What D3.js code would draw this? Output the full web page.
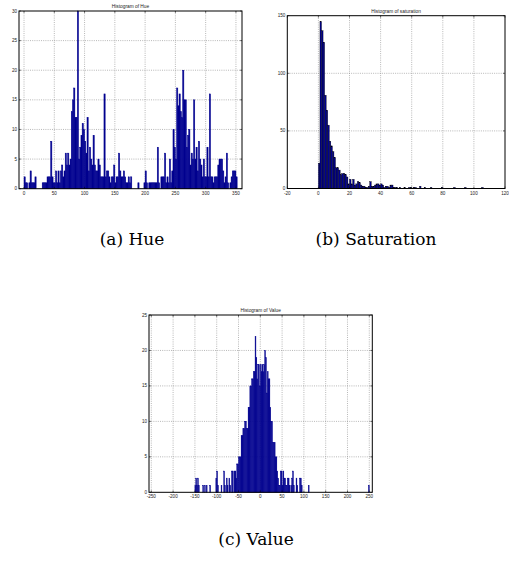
<!DOCTYPE html>
<html>
<head>
<meta charset="utf-8">
<title>HSV histograms</title>
<style>
  body { margin: 0; background: #fff; }
  .grid line { stroke: #888; stroke-width: 0.6; stroke-dasharray: 1,1.2; }
  .tick-label { font-family: "Liberation Sans", Arial, sans-serif; font-size: 4.6px; fill: #222; }
  .title { font-family: "Liberation Sans", Arial, sans-serif; font-size: 4.8px; fill: #222; }
  .caption { font-family: "DejaVu Serif", serif; font-size: 17px; fill: #000; }
</style>
</head>
<body>
<div id="chart"></div>
<script src="https://d3js.org/d3.v7.min.js"></script>
<script>
// Hue: bins of width 2 starting at 0
const hueStart = 0, hueWidth = 2;
const hueCounts = [
  2,1,1,0,1,  3,1,1,1,2,  0,0,0,0,0,  1,1,1,1,2,
  2,2,8,2,1,  1,3,1,3,1,  3,4,2,3,6,  4,6,4,5,13,
  15,17,12,12,30,  5,7,9,11,10,  8,6,12,3,7,  5,4,9,4,3,
  3,5,4,2,2,  2,16,2,3,3,  2,1,2,2,4,  1,2,2,6,3,
  2,2,3,2,1,  1,2,1,2,0,  0,0,0,0,1,  0,0,0,0,1,
  3,1,0,1,1,  1,1,1,1,1,  7,1,0,2,2,  2,6,1,2,1,
  5,1,3,10,7,  5,17,14,16,13,  12,20,15,15,7,  9,10,4,6,5,
  15,5,7,3,8,  5,4,2,5,2,  2,7,2,16,2,  2,1,2,2,2,
  4,5,5,5,3,  1,2,6,1,0,  1,2,3,3,3,  2,0
];
const hueXTicks = [0, 50, 100, 150, 200, 250, 300, 350];
const hueYTicks = [0, 5, 10, 15, 20, 25, 30];

// Saturation: bins of width 1 starting at 0
const satStart = 0, satWidth = 1;
const satCounts = [
  22,145,137,127,81,68,55,41,37,32,
  27,18,18,16,12,13,13,12,10,4,
  8,4,8,3,4,6,5,3,2,2,
  1,1,2,6,2,2,3,4,4,3,
  4,3,1,2,2,1,3,3,1,1,
  1,0,1,0,0,1,0,0,1,1,
  0,1,1,0,0,2,0,0,1,0,
  0,0,1,0,0,0,0,0,0,1,
  0,0,0,0,0,0,0,1,0,0,
  0,0,0,0,1,0,0,0,0,0,
  0,0,0,0,0,1
];
const satXTicks = [-20, 0, 20, 40, 60, 80, 100, 120];
const satYTicks = [0, 50, 100, 150];

// Value: bins of width 2 starting at -150
const valStart = -150, valWidth = 2;
const valCounts = [
  1,2,1,2,1,  0,0,0,0,1,  0,1,0,1,0,  0,0,1,0,0,
  0,0,0,0,2,  3,1,0,0,0,  1,0,0,3,1,  0,2,1,0,2,
  1,0,3,3,0,  3,3,2,4,4,  5,5,5,8,8,  9,9,10,10,9,
  9,12,12,15,15,  16,16,17,17,22,  19,16,18,18,15,  18,17,18,17,18,
  20,19,14,17,16,  16,12,10,10,7,  7,7,5,5,3,  2,1,1,3,3,
  1,3,2,2,1,  1,2,2,1,0,  1,2,3,1,0,  0,2,1,0,0,
  2,2,1,0,0,  0,0,0,0,0,  1,0,0,0,0,  0,0,0,0,0,
  0,0,0,0,0,  0,0,0,0,0,  0,0,0,0,0,  0,0,0,0,0,
  0,0,0,0,0,  0,0,0,0,0,  0,0,0,0,0,  0,0,0,0,0,
  0,0,0,0,0,  0,0,0,0,0,  0,0,0,0,0,  0,0,0,0,1
];
const valXTicks = [-250, -200, -150, -100, -50, 0, 50, 100, 150, 200, 250];
const valYTicks = [0, 5, 10, 15, 20, 25];

const W = 509, H = 561;
const svg = d3.select("#chart").append("svg")
  .attr("width", W).attr("height", H);

function drawHist(o) {
  const x = d3.scaleLinear().domain(o.xDomain).range([o.left, o.right]);
  const y = d3.scaleLinear().domain(o.yDomain).range([o.bottom, o.top]);
  const g = svg.append("g");

  // dotted grid
  const grid = g.append("g").attr("class", "grid");
  grid.selectAll(".gx").data(o.xTicks.filter(t => x(t) > o.left + 0.5 && x(t) < o.right - 0.5))
    .enter().append("line")
    .attr("x1", d => x(d)).attr("x2", d => x(d))
    .attr("y1", o.top).attr("y2", o.bottom);
  grid.selectAll(".gy").data(o.yTicks.filter(t => y(t) > o.top + 0.5 && y(t) < o.bottom - 0.5))
    .enter().append("line")
    .attr("y1", d => y(d)).attr("y2", d => y(d))
    .attr("x1", o.left).attr("x2", o.right);

  // bars
  const bins = o.counts.map((c, i) => ({ x0: o.start + i * o.width, x1: o.start + (i + 1) * o.width, n: c }));
  g.append("g").selectAll("rect").data(bins).enter().append("rect")
    .attr("x", d => x(d.x0))
    .attr("width", d => Math.max(0.1, x(d.x1) - x(d.x0)))
    .attr("y", d => y(d.n))
    .attr("height", d => y(0) - y(d.n))
    .attr("fill", "#00008f")
    .attr("stroke", o.edge)
    .attr("stroke-width", o.edgeW);

  // box
  g.append("rect")
    .attr("x", o.left).attr("y", o.top)
    .attr("width", o.right - o.left).attr("height", o.bottom - o.top)
    .attr("fill", "none").attr("stroke", "#000").attr("stroke-width", 1);

  // inward ticks on all four sides
  const tl = 2;
  const ticks = g.append("g").attr("stroke", "#000").attr("stroke-width", 0.5);
  o.xTicks.forEach(t => {
    ticks.append("line").attr("x1", x(t)).attr("x2", x(t)).attr("y1", o.bottom).attr("y2", o.bottom - tl);
    ticks.append("line").attr("x1", x(t)).attr("x2", x(t)).attr("y1", o.top).attr("y2", o.top + tl);
  });
  o.yTicks.forEach(t => {
    ticks.append("line").attr("y1", y(t)).attr("y2", y(t)).attr("x1", o.left).attr("x2", o.left + tl);
    ticks.append("line").attr("y1", y(t)).attr("y2", y(t)).attr("x1", o.right).attr("x2", o.right - tl);
  });

  // tick labels
  g.append("g").selectAll("text").data(o.xTicks).enter().append("text")
    .attr("class", "tick-label")
    .attr("x", d => x(d)).attr("y", o.bottom + 6)
    .attr("text-anchor", "middle")
    .text(d => d);
  g.append("g").selectAll("text").data(o.yTicks).enter().append("text")
    .attr("class", "tick-label")
    .attr("x", o.left - 2).attr("y", d => y(d) + 1.5)
    .attr("text-anchor", "end")
    .text(d => d);

  // title
  g.append("text").attr("class", "title")
    .attr("x", (o.left + o.right) / 2).attr("y", o.top - 3)
    .attr("text-anchor", "middle")
    .text(o.title);

  // caption
  svg.append("text").attr("class", "caption")
    .attr("x", o.capX).attr("y", o.capY)
    .attr("text-anchor", "middle")
    .text(o.caption);
}

drawHist({
  left: 19, right: 242, top: 11, bottom: 188.7,
  xDomain: [-8.3, 360], yDomain: [0, 30],
  xTicks: hueXTicks, yTicks: hueYTicks,
  counts: hueCounts, start: hueStart, width: hueWidth, edge: "#00008f", edgeW: 0.5,
  title: "Histogram of Hue",
  caption: "(a) Hue", capX: 132, capY: 245
});

drawHist({
  left: 287.3, right: 505, top: 15.7, bottom: 188.5,
  xDomain: [-20, 120], yDomain: [0, 150],
  xTicks: satXTicks, yTicks: satYTicks,
  counts: satCounts, start: satStart, width: satWidth, edge: "#000", edgeW: 0.35,
  title: "Histogram of saturation",
  caption: "(b) Saturation", capX: 376, capY: 245
});

drawHist({
  left: 149, right: 372.3, top: 315, bottom: 492.3,
  xDomain: [-255.3, 256.9], yDomain: [0, 25],
  xTicks: valXTicks, yTicks: valYTicks,
  counts: valCounts, start: valStart, width: valWidth, edge: "#00008f", edgeW: 0.4,
  title: "Histogram of Value",
  caption: "(c) Value", capX: 256, capY: 545
});
</script>
</body>
</html>
